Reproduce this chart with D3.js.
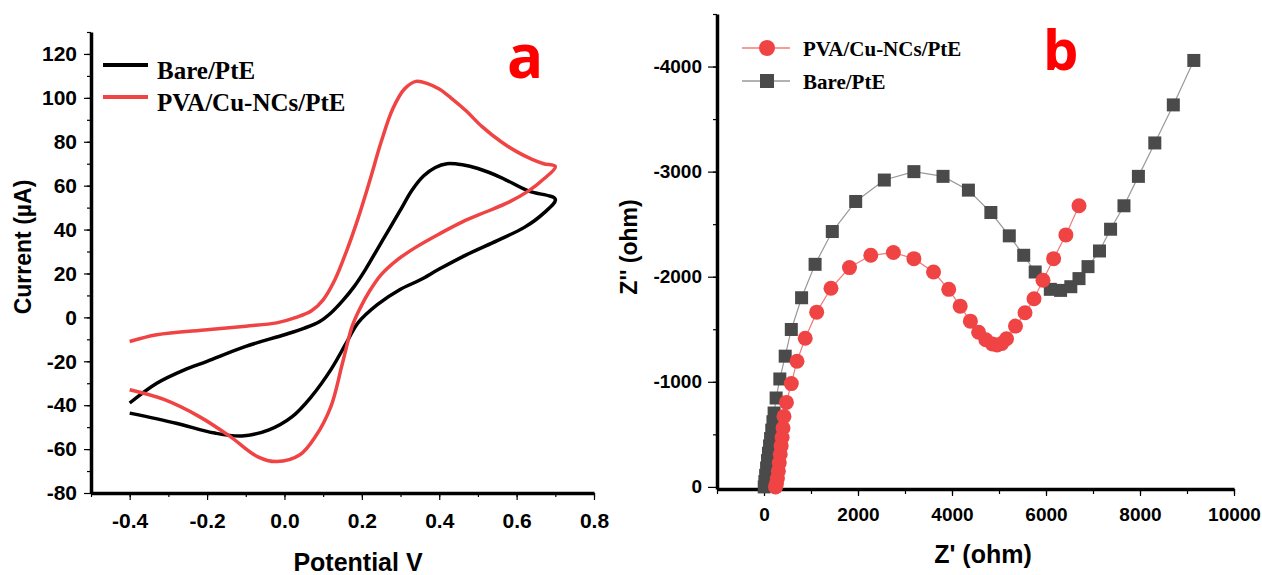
<!DOCTYPE html>
<html lang="en">
<head>
	<meta charset="UTF-8"/>
	<title>CV and EIS - Bare/PtE vs PVA/Cu-NCs/PtE</title>
	<script src="https://d3js.org/d3.v7.min.js"></script>
	<style>
		body { margin: 0; background: #fff; }
	</style>
</head>
<body>
	<div id="chart"></div>

	<script>
	//Panel a - cyclic voltammograms (forward sweep then reverse sweep)
	var cvPotentialBare = [-0.40, -0.33, -0.26, -0.20, -0.10, 0.00, 0.05, 0.09, 0.12, 0.15, 0.18, 0.21, 0.24, 0.27, 0.30, 0.33, 0.36, 0.39, 0.42, 0.46, 0.50, 0.56, 0.63, 0.70,
	                       0.67, 0.62, 0.55, 0.47, 0.40, 0.35, 0.30, 0.24, 0.19, 0.16, 0.12, 0.07, 0.02, -0.04, -0.11, -0.18, -0.28, -0.40];
	var cvCurrentBare   = [-39, -30, -24, -20, -13.2, -7.9, -5, -2, 2, 7.5, 14, 22, 31, 40, 49, 58, 64.5, 68.3, 70, 69.5, 67.8, 63.7, 57.6, 53.8,
	                       47.5, 41, 35, 28.5, 22, 17, 12.8, 5.8, -2.5, -11.6, -23.8, -36, -45.2, -51.2, -54, -52.7, -48.2, -43.6];

	var cvPotentialPva  = [-0.40, -0.33, -0.20, -0.10, -0.02, 0.03, 0.07, 0.10, 0.13, 0.16, 0.19, 0.22, 0.25, 0.28, 0.31, 0.34, 0.37, 0.40, 0.43, 0.47, 0.51, 0.56, 0.60, 0.64, 0.67, 0.70,
	                       0.67, 0.63, 0.58, 0.52, 0.46, 0.40, 0.34, 0.29, 0.25, 0.22, 0.195, 0.175, 0.15, 0.12, 0.08, 0.04, -0.02, -0.07, -0.14, -0.22, -0.31, -0.40];
	var cvCurrentPva    = [-11, -7.9, -5.6, -4, -2.5, 0, 3, 8, 17, 30, 45, 62, 80, 95, 104, 107.5, 106.5, 104, 100, 94, 87, 80, 75.5, 72, 70, 68.7,
	                       63, 57.5, 52.5, 48, 43.5, 38, 32, 26, 19.5, 12, 4, -4, -20.8, -40.6, -54.3, -62.6, -65.7, -63.4, -54.3, -45.2, -37.5, -33];

	var cvXTicks = [-0.4, -0.2, 0.0, 0.2, 0.4, 0.6, 0.8];
	var cvYTicks = [-80, -60, -40, -20, 0, 20, 40, 60, 80, 100, 120];

	//Panel b - Nyquist plots
	var eisZreBare = [5, 18, 35, 55, 75, 95, 118, 140, 165, 190, 215, 258, 337, 451, 581, 800, 1087, 1453, 1951, 2560, 3189, 3809, 4349,
	                  4827, 5219, 5526, 5770, 6092, 6310, 6528, 6702, 6894, 7138, 7374, 7659, 7966, 8315, 8709, 9145];
	var eisZimBare = [0, -50, -110, -180, -250, -320, -390, -460, -540, -620, -703, -846, -1027, -1244, -1498, -1800, -2118, -2430, -2716, -2920, -3000, -2955, -2824,
	                  -2611, -2389, -2204, -2045, -1880, -1870, -1905, -1982, -2096, -2245, -2452, -2675, -2955, -3273, -3635, -4058];

	var eisZrePva = [245, 265, 285, 305, 325, 345, 365, 385, 405, 425, 477, 581, 702, 877, 1121, 1425, 1819, 2272, 2753, 3189, 3607, 3930,
	                 4174, 4391, 4566, 4720, 4860, 4960, 5060, 5160, 5351, 5553, 5745, 5936, 6162, 6423, 6702];
	var eisZimPva = [0, -30, -80, -150, -230, -310, -390, -470, -560, -671, -804, -983, -1196, -1415, -1663, -1890, -2087, -2204, -2230, -2172, -2045, -1880,
	                 -1720, -1577, -1472, -1400, -1360, -1350, -1365, -1410, -1530, -1657, -1790, -1966, -2172, -2398, -2675];

	var eisXTicks = [0, 2000, 4000, 6000, 8000, 10000];
	var eisYTicks = [0, -1000, -2000, -3000, -4000];

	//Colours
	var red = "#f04444";
	var grey = "#4a4a4a";

	var w = 1262;
	var h = 575;

	//plain hyphen minus, no thousands separator
	var locale = d3.formatLocale({decimal: ".", thousands: "", grouping: [3], currency: ["", ""], minus: "-"});

	var svg = d3.select("#chart")
				.append("svg")
				.attr("width", w)
				.attr("height", h);

	function zip(xs, ys) {
		return xs.map(function(x, i){ return [x, ys[i]]; });
	}

	function styleAxis(g, fontSize) {
		g.select(".domain").attr("stroke", "#000").attr("stroke-width", 3.5);
		g.selectAll(".tick line").attr("stroke", "#000").attr("stroke-width", 1.2);
		g.selectAll(".tick text")
			.attr("font-family", "'Liberation Sans', Arial, sans-serif")
			.attr("font-weight", "bold")
			.attr("font-size", fontSize + "px")
			.attr("fill", "#000");
	}

	// ---------------- Panel a ----------------
	var xA = d3.scaleLinear().domain([-0.5, 0.8]).range([91, 594]);
	var yA = d3.scaleLinear().domain([-80, 130]).range([493, 32]);

	//minor ticks
	svg.append("g")
		.attr("transform", "translate(0," + yA(-80) + ")")
		.call(d3.axisBottom(xA).tickValues(d3.range(-0.5, 0.81, 0.1)).tickSize(4).tickFormat("").tickSizeOuter(0))
		.call(function(g){ styleAxis(g, 0); g.select(".domain").remove(); });
	svg.append("g")
		.attr("transform", "translate(" + xA(-0.5) + ",0)")
		.call(d3.axisLeft(yA).tickValues(d3.range(-70, 131, 10)).tickSize(4).tickFormat("").tickSizeOuter(0))
		.call(function(g){ styleAxis(g, 0); g.select(".domain").remove(); });

	svg.append("g")
		.attr("transform", "translate(0," + yA(-80) + ")")
		.call(d3.axisBottom(xA).tickValues(cvXTicks).tickSize(7).tickPadding(13).tickSizeOuter(0)
			.tickFormat(locale.format(".1f")))
		.call(function(g){ styleAxis(g, 21); });
	svg.append("g")
		.attr("transform", "translate(" + xA(-0.5) + ",0)")
		.call(d3.axisLeft(yA).tickValues(cvYTicks).tickSize(7).tickPadding(7).tickSizeOuter(0)
			.tickFormat(locale.format("d")))
		.call(function(g){ styleAxis(g, 21); });

	var lineA = d3.line()
				.x(function(d){ return xA(d[0]); })
				.y(function(d){ return yA(d[1]); })
				.curve(d3.curveCatmullRom.alpha(0.5));

	svg.append("path")
		.datum(zip(cvPotentialBare, cvCurrentBare))
		.attr("d", lineA)
		.attr("fill", "none")
		.attr("stroke", "#000")
		.attr("stroke-width", 3.5);

	svg.append("path")
		.datum(zip(cvPotentialPva, cvCurrentPva))
		.attr("d", lineA)
		.attr("fill", "none")
		.attr("stroke", red)
		.attr("stroke-width", 3.5);

	//legend a
	var legA = [{name: "Bare/PtE", color: "#000", y: 65}, {name: "PVA/Cu-NCs/PtE", color: red, y: 97}];
	legA.forEach(function(l){
		svg.append("line").attr("x1", 103).attr("x2", 148).attr("y1", l.y).attr("y2", l.y)
			.attr("stroke", l.color).attr("stroke-width", 4);
		svg.append("text").attr("x", 157).attr("y", l.y + 14).text(l.name)
			.attr("font-family", "'Liberation Serif', 'Times New Roman', serif")
			.attr("font-weight", "bold").attr("font-size", "25px");
	});

	svg.append("text").attr("x", 507).attr("y", 78).text("a")
		.attr("font-family", "'Open Sans', 'Liberation Sans', sans-serif")
		.attr("font-weight", "bold").attr("font-size", "60px").attr("fill", "#ff0000");

	svg.append("text").attr("x", 358).attr("y", 571).attr("text-anchor", "middle").text("Potential V")
		.attr("font-family", "'Liberation Sans', Arial, sans-serif")
		.attr("font-weight", "bold").attr("font-size", "25px");

	svg.append("text").attr("transform", "translate(31,247) rotate(-90)").attr("text-anchor", "middle").text("Current (µA)")
		.attr("font-family", "'Liberation Sans', Arial, sans-serif")
		.attr("font-weight", "bold").attr("font-size", "23px");

	// ---------------- Panel b ----------------
	var xB = d3.scaleLinear().domain([-1000, 10000]).range([717, 1234]);
	var yB = d3.scaleLinear().domain([20, -4500]).range([489, 14]);

	svg.append("g")
		.attr("transform", "translate(0," + yB(20) + ")")
		.call(d3.axisBottom(xB).tickValues(d3.range(-1000, 10001, 1000)).tickSize(5).tickFormat("").tickSizeOuter(0))
		.call(function(g){ styleAxis(g, 0); g.select(".domain").remove(); });
	svg.append("g")
		.attr("transform", "translate(" + xB(-1000) + ",0)")
		.call(d3.axisLeft(yB).tickValues(d3.range(-500, -4501, -500)).tickSize(4).tickFormat("").tickSizeOuter(0))
		.call(function(g){ styleAxis(g, 0); g.select(".domain").remove(); });

	svg.append("g")
		.attr("transform", "translate(0," + yB(20) + ")")
		.call(d3.axisBottom(xB).tickValues(eisXTicks).tickSize(7).tickPadding(12).tickSizeOuter(0)
			.tickFormat(locale.format("d")))
		.call(function(g){ styleAxis(g, 19); });
	svg.append("g")
		.attr("transform", "translate(" + xB(-1000) + ",0)")
		.call(d3.axisLeft(yB).tickValues(eisYTicks).tickSize(9).tickPadding(6).tickSizeOuter(0)
			.tickFormat(locale.format("d")))
		.call(function(g){ styleAxis(g, 19); });

	var lineB = d3.line()
				.x(function(d){ return xB(d[0]); })
				.y(function(d){ return yB(d[1]); });

	var bare = zip(eisZreBare, eisZimBare);
	var pva = zip(eisZrePva, eisZimPva);

	svg.append("path").datum(bare).attr("d", lineB)
		.attr("fill", "none").attr("stroke", "#999").attr("stroke-width", 1.2);
	svg.selectAll("rect.bare")
		.data(bare)
		.enter()
		.append("rect")
		.attr("class", "bare")
		.attr("x", function(d){ return xB(d[0]) - 6.5; })
		.attr("y", function(d){ return yB(d[1]) - 6.5; })
		.attr("width", 13)
		.attr("height", 13)
		.attr("fill", grey);

	svg.append("path").datum(pva).attr("d", lineB)
		.attr("fill", "none").attr("stroke", "#f27a7a").attr("stroke-width", 1.2);
	svg.selectAll("circle.pva")
		.data(pva)
		.enter()
		.append("circle")
		.attr("class", "pva")
		.attr("cx", function(d){ return xB(d[0]); })
		.attr("cy", function(d){ return yB(d[1]); })
		.attr("r", 7.5)
		.attr("fill", red);

	//legend b
	svg.append("line").attr("x1", 742).attr("x2", 790).attr("y1", 48).attr("y2", 48).attr("stroke", "#f27a7a").attr("stroke-width", 1.5);
	svg.append("circle").attr("cx", 767).attr("cy", 48).attr("r", 8).attr("fill", red);
	svg.append("line").attr("x1", 742).attr("x2", 790).attr("y1", 81).attr("y2", 81).attr("stroke", "#999").attr("stroke-width", 1.5);
	svg.append("rect").attr("x", 760).attr("y", 74).attr("width", 14).attr("height", 14).attr("fill", grey);

	[["PVA/Cu-NCs/PtE", 56], ["Bare/PtE", 89]].forEach(function(t){
		svg.append("text").attr("x", 803).attr("y", t[1]).text(t[0])
			.attr("font-family", "'Liberation Serif', 'Times New Roman', serif")
			.attr("font-weight", "bold").attr("font-size", "21px");
	});

	svg.append("text").attr("x", 1043).attr("y", 70).text("b")
		.attr("font-family", "'Open Sans', 'Liberation Sans', sans-serif")
		.attr("font-weight", "bold").attr("font-size", "56px").attr("fill", "#ff0000");

	svg.append("text").attr("x", 983).attr("y", 563).attr("text-anchor", "middle").text("Z' (ohm)")
		.attr("font-family", "'Liberation Sans', Arial, sans-serif")
		.attr("font-weight", "bold").attr("font-size", "25px");

	svg.append("text").attr("transform", "translate(637,247) rotate(-90)").attr("text-anchor", "middle").text("Z'' (ohm)")
		.attr("font-family", "'Liberation Sans', Arial, sans-serif")
		.attr("font-weight", "bold").attr("font-size", "23px");
	</script>
</body>
</html>
